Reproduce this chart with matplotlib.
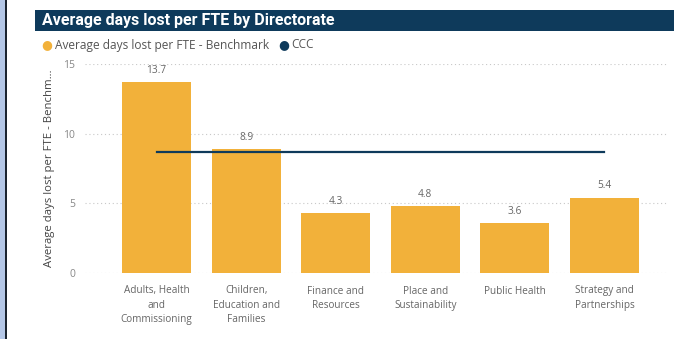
import matplotlib.pyplot as plt
from matplotlib.patches import Rectangle

# Sickness absence per directorate, with the council-wide (CCC) figure
directorates = [
    "Adults, Health\nand\nCommissioning",
    "Children,\nEducation and\nFamilies",
    "Finance and\nResources",
    "Place and\nSustainability",
    "Public Health",
    "Strategy and\nPartnerships",
]
benchmark = [13.7, 8.9, 4.3, 4.8, 3.6, 5.4]
ccc = [8.7, 8.7, 8.7, 8.7, 8.7, 8.7]
y_ticks = [0, 5, 10, 15]

BAR = "#F2B13A"
NAVY = "#0E3A5B"
GREY = "#666666"

plt.rcParams["font.family"] = ["Open Sans", "DejaVu Sans"]

fig = plt.figure(figsize=(6.74, 3.39), dpi=100)
fig.patch.set_facecolor("white")

# side strip and title banner
fig.patches.append(Rectangle((0, 0), 5 / 674, 1, transform=fig.transFigure,
                             facecolor="#B4C7E7", edgecolor="none"))
fig.patches.append(Rectangle((5 / 674, 0), 1.5 / 674, 1, transform=fig.transFigure,
                             facecolor="#1B2430", edgecolor="none"))
fig.patches.append(Rectangle((35 / 674, 1 - 31 / 339), 639 / 674, 21 / 339,
                             transform=fig.transFigure,
                             facecolor=NAVY, edgecolor="none"))
fig.text(42 / 674, 1 - 20.5 / 339, "Average days lost per FTE by Directorate",
         color="white", fontsize=11.5, fontweight="bold", va="center",
         family=["Roboto", "DejaVu Sans"])

# legend row
fig.text(41 / 674, 1 - 45 / 339, "\u25cf", color=BAR, fontsize=9, va="center",
         family="DejaVu Sans")
fig.text(55 / 674, 1 - 45 / 339, "Average days lost per FTE - Benchmark",
         color="#555555", fontsize=8.6, va="center")
fig.text(278 / 674, 1 - 45 / 339, "\u25cf", color=NAVY, fontsize=9, va="center",
         family="DejaVu Sans")
fig.text(291 / 674, 1 - 45 / 339, "CCC", color="#555555", fontsize=8.6, va="center")

ax = fig.add_axes([85 / 674, 1 - 273 / 339, 583 / 674, 209 / 339])
x = list(range(len(directorates)))

bars = ax.bar(x, benchmark, width=0.77, color=BAR, zorder=2)
ax.plot(x, ccc, color=NAVY, linewidth=1.6, zorder=3)

for xi, v in zip(x, benchmark):
    ax.text(xi, v + 0.45, f"{v:.1f}", ha="center", va="bottom",
            fontsize=7.3, color=GREY)

ax.set_xlim(-0.8, 5.71)
ax.set_ylim(0, 15)
ax.set_yticks(y_ticks)
ax.set_xticks(x)
ax.set_xticklabels(directorates, fontsize=7.2, color=GREY, linespacing=1.4)
ax.tick_params(axis="x", length=0, pad=9)
ax.tick_params(axis="y", length=0, pad=7, labelsize=7.5, labelcolor="#888888")
ax.grid(axis="y", color="#C8C8C8", linestyle=(0, (1, 2.5)), linewidth=0.8, zorder=0)
for s in ax.spines.values():
    s.set_visible(False)

ax.set_ylabel("Average days lost per FTE - Benchm\u2026", fontsize=8.2,
              color="#444444", labelpad=6)

fig.savefig("out.png", dpi=100)
